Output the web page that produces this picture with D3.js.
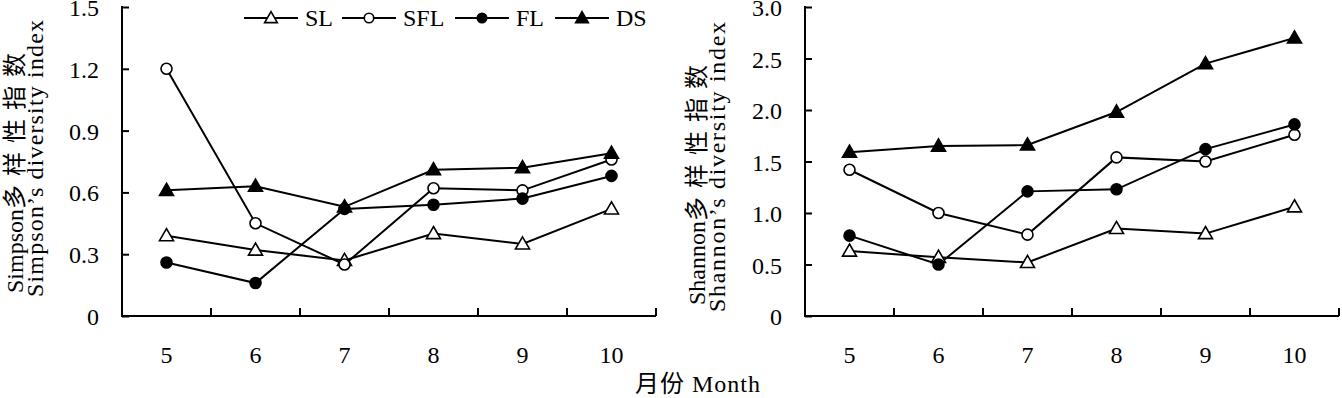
<!DOCTYPE html>
<html>
<head>
<meta charset="utf-8">
<script src="https://cdn.jsdelivr.net/npm/d3@7"></script>
<style>
body { margin: 0; background: #fff; }
svg text { font-family: "Liberation Serif", "Times New Roman", "Noto Sans CJK SC", serif; fill: #000; }
</style>
</head>
<body>
<div id="canvas"></div>
<script>
var width = 1342,
	height = 398;

var months = [5, 6, 7, 8, 9, 10];
var seriesNames = ['SL', 'SFL', 'FL', 'DS'];

// Simpson
var simpsonSL = [0.39, 0.32, 0.27, 0.40, 0.35, 0.52];
var simpsonSFL = [1.20, 0.45, 0.25, 0.62, 0.61, 0.76];
var simpsonFL = [0.26, 0.16, 0.52, 0.54, 0.57, 0.68];
var simpsonDS = [0.61, 0.63, 0.53, 0.71, 0.72, 0.79];

// Shannon
var shannonSL = [0.63, 0.57, 0.52, 0.85, 0.80, 1.06];
var shannonSFL = [1.42, 1.00, 0.79, 1.54, 1.50, 1.76];
var shannonFL = [0.78, 0.50, 1.21, 1.23, 1.62, 1.86];
var shannonDS = [1.59, 1.65, 1.66, 1.98, 2.45, 2.70];

var simpsonTicks = [0, 0.3, 0.6, 0.9, 1.2, 1.5];
var shannonTicks = [0, 0.5, 1.0, 1.5, 2.0, 2.5, 3.0];

var svg = d3.select('#canvas')
	.append('svg')
	.attr('width', width)
	.attr('height', height);

var symbols = {
	SL: { type: d3.symbolTriangle, fill: '#fff' },
	SFL: { type: d3.symbolCircle, fill: '#fff' },
	FL: { type: d3.symbolCircle, fill: '#000' },
	DS: { type: d3.symbolTriangle, fill: '#000' }
};

function drawPanel(opts) {
	var g = svg.append('g');
	var x = d3.scaleBand()
		.domain(months)
		.range([opts.x0, opts.x1]);
	var y = d3.scaleLinear()
		.domain([0, opts.max])
		.range([316, 7]);

	// y axis, ticks pointing inward
	var yAxis = g.append('g')
		.attr('transform', 'translate(' + opts.x0 + ',0)')
		.call(d3.axisRight(y).tickValues(opts.ticks).tickSize(7).tickFormat(''));
	yAxis.select('.domain').remove();
	yAxis.selectAll('line').attr('stroke', '#000').attr('stroke-width', 2);
	g.append('line')
		.attr('x1', opts.x0).attr('x2', opts.x0)
		.attr('y1', y(opts.max) - 1).attr('y2', 317)
		.attr('stroke', '#000').attr('stroke-width', 2);

	g.selectAll('.ylab')
		.data(opts.ticks)
		.enter().append('text')
		.attr('x', opts.x0 - 23)
		.attr('y', function(d) { return y(d) + 9; })
		.attr('text-anchor', 'end')
		.attr('font-size', 24)
		.text(opts.fmt);

	// x axis, tick marks between categories
	g.append('line')
		.attr('x1', opts.x0).attr('x2', opts.x1)
		.attr('y1', 316).attr('y2', 316)
		.attr('stroke', '#000').attr('stroke-width', 2);
	var bounds = months.slice(1).map(function(m) { return x(m); }).concat([opts.x1]);
	g.selectAll('.xt')
		.data(bounds)
		.enter().append('line')
		.attr('x1', function(d) { return d; })
		.attr('x2', function(d) { return d; })
		.attr('y1', 316).attr('y2', 308)
		.attr('stroke', '#000').attr('stroke-width', 2);
	g.selectAll('.xlab')
		.data(months)
		.enter().append('text')
		.attr('x', function(d) { return x(d) + x.bandwidth() / 2; })
		.attr('y', 363)
		.attr('text-anchor', 'middle')
		.attr('font-size', 24)
		.text(function(d) { return d; });

	// axis titles: Latin name + spaced Chinese, then English line
	var t1 = g.append('text')
		.attr('transform', 'translate(' + opts.t1x + ',' + opts.t1y + ') rotate(-90)')
		.attr('font-size', 24);
	t1.append('tspan').text(opts.name);
	t1.append('tspan').attr('letter-spacing', 9).text('多样性指数');
	g.append('text')
		.attr('transform', 'translate(' + (opts.t1x + 20) + ',' + opts.t2y + ') rotate(-90)')
		.attr('font-size', 24)
		.attr('textLength', opts.t2len)
		.attr('lengthAdjust', 'spacing')
		.text(opts.name + '’s diversity index');

	var line = d3.line()
		.x(function(d, i) { return x(months[i]) + x.bandwidth() / 2; })
		.y(function(d) { return y(d); });

	seriesNames.forEach(function(name) {
		g.append('path')
			.attr('d', line(opts.data[name]))
			.attr('fill', 'none')
			.attr('stroke', '#000')
			.attr('stroke-width', 2);
	});
	seriesNames.forEach(function(name) {
		var s = symbols[name];
		var tri = s.type === d3.symbolTriangle;
		g.selectAll('.pt-' + name)
			.data(opts.data[name])
			.enter().append('path')
			.attr('transform', function(d, i) {
				return 'translate(' + (x(months[i]) + x.bandwidth() / 2) + ',' + (y(d) + (tri ? 1 : 0)) + ')';
			})
			.attr('d', d3.symbol().type(s.type).size(tri ? 85 : 95))
			.attr('fill', s.fill)
			.attr('stroke', '#000')
			.attr('stroke-width', 1.6);
	});
}

drawPanel({
	x0: 122, x1: 656, max: 1.5, ticks: simpsonTicks,
	fmt: function(d) { return d === 0 ? '0' : d3.format('.1f')(d); },
	name: 'Simpson', t1x: 23, t1y: 293, t2y: 297, t2len: 277,
	data: { SL: simpsonSL, SFL: simpsonSFL, FL: simpsonFL, DS: simpsonDS }
});

drawPanel({
	x0: 805, x1: 1339, max: 3.0, ticks: shannonTicks,
	fmt: function(d) { return d === 0 ? '0' : d3.format('.1f')(d); },
	name: 'Shannon', t1x: 705, t1y: 305, t2y: 312, t2len: 290,
	data: { SL: shannonSL, SFL: shannonSFL, FL: shannonFL, DS: shannonDS }
});

// x title
svg.append('text')
	.attr('x', 635)
	.attr('y', 392)
	.attr('font-size', 24)
	.attr('textLength', 125)
	.attr('lengthAdjust', 'spacing')
	.text('月份 Month');

// legend
var legendX = [244, 342, 455, 555];
var legend = svg.selectAll('.legend')
	.data(seriesNames)
	.enter().append('g')
	.attr('transform', function(d, i) { return 'translate(' + legendX[i] + ',18)'; });
legend.append('line')
	.attr('x1', 0).attr('x2', 54)
	.attr('stroke', '#000').attr('stroke-width', 2);
legend.append('path')
	.attr('transform', function(d) { return 'translate(27,' + (symbols[d].type === d3.symbolTriangle ? 1 : 0) + ')'; })
	.attr('d', function(d) { return d3.symbol().type(symbols[d].type).size(70)(); })
	.attr('fill', function(d) { return symbols[d].fill; })
	.attr('stroke', '#000')
	.attr('stroke-width', 1.6);
legend.append('text')
	.attr('x', 61)
	.attr('y', 8)
	.attr('font-size', 24)
	.text(function(d) { return d; });
</script>
</body>
</html>
